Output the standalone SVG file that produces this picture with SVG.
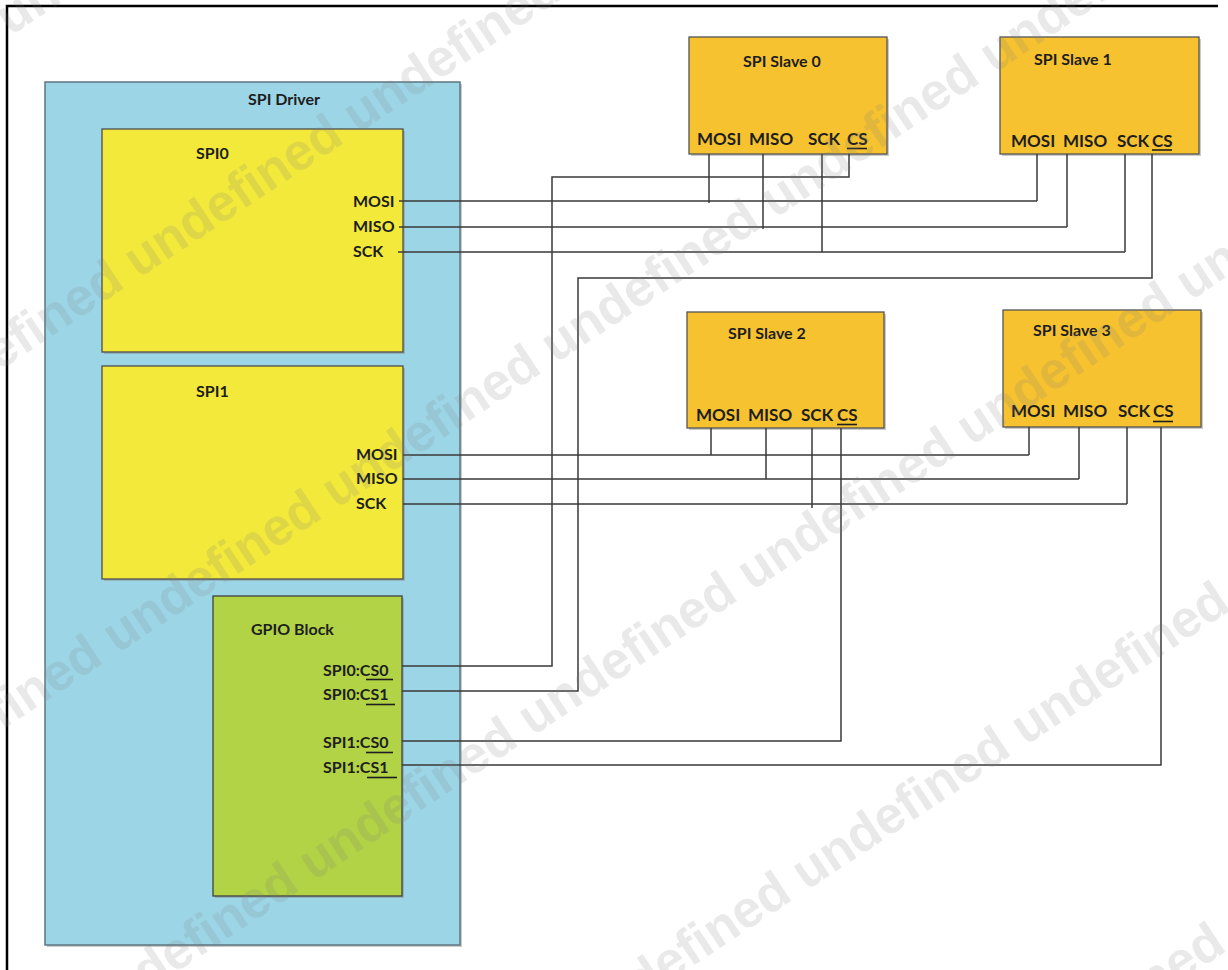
<svg xmlns="http://www.w3.org/2000/svg" width="1228" height="970" viewBox="0 0 1228 970">
<style>
text{font-family:Lato,"Open Sans","Liberation Sans",sans-serif;font-weight:bold;fill:#1e1e1e}
.t16{font-size:16px}
.t17{font-size:17px}
.shadow{fill:#8a8a8a;opacity:.45}
.drv{fill:#9cd5e6;stroke:#5d7580;stroke-width:1.5}
.spi{fill:#f2e93a;stroke:#4d4d4d;stroke-width:1.3}
.gpio{fill:#b1d345;stroke:#3f3f3f;stroke-width:1.3}
.slave{fill:#f6c22f;stroke:#555;stroke-width:1.3}
.ul{stroke:#1e1e1e;stroke-width:1.6}
.wire{fill:none;stroke:#3a3a3a;stroke-width:1.5}
.wm{font-family:"Liberation Sans",Arial,sans-serif;font-weight:bold;font-size:52px;fill:#808080;opacity:.17}
</style>

<path d="M7,970 V6 H1218" fill="none" stroke="#000" stroke-width="2.5"/>

<g id="spi-driver">
<rect class="shadow" x="47" y="84" width="415" height="863"/>
<rect class="drv" x="45" y="82" width="415" height="863"/>
<text class="t16" x="248" y="105">SPI Driver</text>
</g>

<g id="spi0">
<rect class="shadow" x="104" y="131" width="301" height="223"/>
<rect class="spi" x="102" y="129" width="301" height="223"/>
<text class="t16" x="196" y="159">SPI0</text>
<text class="t16" x="353" y="207">MOSI</text>
<text class="t16" x="353" y="232">MISO</text>
<text class="t16" x="353" y="257">SCK</text>
</g>

<g id="spi1">
<rect class="shadow" x="104" y="368" width="301" height="213"/>
<rect class="spi" x="102" y="366" width="301" height="213"/>
<text class="t16" x="196" y="397">SPI1</text>
<text class="t16" x="356" y="460">MOSI</text>
<text class="t16" x="356" y="484">MISO</text>
<text class="t16" x="356" y="509">SCK</text>
</g>

<g id="gpio-block">
<rect class="shadow" x="215" y="598" width="189" height="300"/>
<rect class="gpio" x="213" y="596" width="189" height="300"/>
<text class="t16" x="251" y="635">GPIO Block</text>
<text class="t16" x="323" y="676">SPI0:CS0</text>
<line class="ul" x1="366" y1="679.5" x2="393" y2="679.5"/>
<text class="t16" x="323" y="700">SPI0:CS1</text>
<line class="ul" x1="366" y1="704.5" x2="395" y2="704.5"/>
<text class="t16" x="323" y="748">SPI1:CS0</text>
<line class="ul" x1="366" y1="752.5" x2="393" y2="752.5"/>
<text class="t16" x="323" y="773">SPI1:CS1</text>
<line class="ul" x1="367" y1="777.5" x2="397" y2="777.5"/>
</g>

<g id="spi-slave-0">
<rect class="shadow" x="691" y="39" width="198" height="117"/>
<rect class="slave" x="689" y="37" width="198" height="117"/>
<text class="t16" x="743" y="67">SPI Slave 0</text>
<text class="t17" x="697" y="145">MOSI</text>
<text class="t17" x="749" y="145">MISO</text>
<text class="t17" x="808" y="145">SCK</text>
<text class="t17" x="847" y="145">CS</text>
<line class="ul" x1="847" y1="148.5" x2="867" y2="148.5"/>
</g>

<g id="spi-slave-1">
<rect class="shadow" x="1002" y="39" width="199" height="117"/>
<rect class="slave" x="1000" y="37" width="199" height="117"/>
<text class="t16" x="1034" y="65">SPI Slave 1</text>
<text class="t17" x="1011" y="147">MOSI</text>
<text class="t17" x="1063" y="147">MISO</text>
<text class="t17" x="1117" y="147">SCK</text>
<text class="t17" x="1152" y="147">CS</text>
<line class="ul" x1="1152" y1="150" x2="1172" y2="150"/>
</g>

<g id="spi-slave-2">
<rect class="shadow" x="689" y="314" width="197" height="116"/>
<rect class="slave" x="687" y="312" width="197" height="116"/>
<text class="t16" x="728" y="339">SPI Slave 2</text>
<text class="t17" x="696" y="421">MOSI</text>
<text class="t17" x="748" y="421">MISO</text>
<text class="t17" x="801" y="421">SCK</text>
<text class="t17" x="837" y="421">CS</text>
<line class="ul" x1="837" y1="424.5" x2="857" y2="424.5"/>
</g>

<g id="spi-slave-3">
<rect class="shadow" x="1005" y="312" width="198" height="117"/>
<rect class="slave" x="1003" y="310" width="198" height="117"/>
<text class="t16" x="1033" y="336">SPI Slave 3</text>
<text class="t17" x="1011" y="417">MOSI</text>
<text class="t17" x="1063" y="417">MISO</text>
<text class="t17" x="1118" y="417">SCK</text>
<text class="t17" x="1153" y="417">CS</text>
<line class="ul" x1="1153" y1="421.5" x2="1173" y2="421.5"/>
</g>

<g id="connectors">
<path class="wire" d="M399,201 H1037 M709,154 V203 M1037,154 V201"/>
<path class="wire" d="M399,227 H1067 M763,154 V229 M1067,154 V227"/>
<path class="wire" d="M398,252 H1125 M822,154 V252 M1125,154 V252"/>
<path class="wire" d="M849,154 V177 H552 V666 H402"/>
<path class="wire" d="M1152,154 V278 H578 V691 H402"/>
<path class="wire" d="M403,455 H1029 M711,428 V455 M1029,427 V455"/>
<path class="wire" d="M403,479 H1079 M766,428 V479 M1079,427 V479"/>
<path class="wire" d="M403,504 H1127 M812,428 V508 M1127,427 V504"/>
<path class="wire" d="M841,428 V741 H402"/>
<path class="wire" d="M1161,427 V765 H402"/>
</g>

<g id="watermark" transform="rotate(-33.5)">
<text class="wm" x="-800" y="36">undefined undefined undefined undefined undefined undefined undefined undefined undefined</text>
<text class="wm" x="-827" y="309">undefined undefined undefined undefined undefined undefined undefined undefined undefined</text>
<text class="wm" x="-789" y="610">undefined undefined undefined undefined undefined undefined undefined undefined undefined</text>
<text class="wm" x="-751" y="908">undefined undefined undefined undefined undefined undefined undefined undefined undefined</text>
<text class="wm" x="-871" y="1188">undefined undefined undefined undefined undefined undefined undefined undefined undefined</text>
<text class="wm" x="-800" y="1470">undefined undefined undefined undefined undefined undefined undefined undefined undefined</text>
</g>
</svg>
